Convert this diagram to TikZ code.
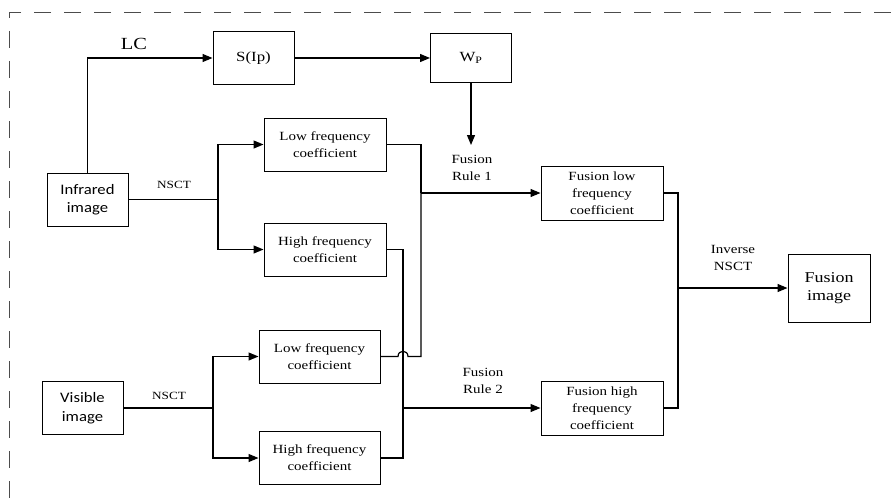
\documentclass[tikz,border=0pt]{standalone}
\usepackage{fontspec}
\setmainfont{Liberation Serif}[FakeStretch=1.2]
\newfontfamily\boxsans{Carlito}[FakeStretch=1.15]
\usetikzlibrary{arrows.meta}

\begin{document}
\begin{tikzpicture}[
            x=1pt, y=-1pt,
            box/.style={
                    draw,
                    rectangle,
                    line width=1pt,
                    align=center,
                    inner sep=0pt,
                    font=\fontsize{12.5}{17}\selectfont,
                    minimum width=122pt,
                    minimum height=53pt
                },
            imgbox/.style={
                    box,
                    font=\boxsans\fontsize{14.5}{18.5}\selectfont,
                    minimum width=81pt
                },
            link/.style={
                    line width=1.2pt
                },
            flow/.style={
                    link,
                    -{Triangle[length=10pt,width=8pt]}
                },
            lbl/.style={
                    align=center,
                    inner sep=0pt,
                    font=\fontsize{12.5}{16.5}\selectfont
                },
            frame/.style={
                    draw=black!70,
                    line width=1pt,
                    dash pattern=on 17pt off 13pt
                }
        ]
        \useasboundingbox (0,0) rectangle (891,503);

        % outer dashed frame
        \draw[frame] (891,13) -- (9,13) -- (9,503);

        \node[imgbox] (ir) at (87.5, 199.5) {Infrared\\image};
        \node[imgbox] (vis) at (82.5, 408) {Visible\\image};
        \node[box, minimum width=81pt, minimum height=52pt, font=\fontsize{14}{16}\selectfont] (sip) at (253.5, 58) {S(Ip)};
        \node[box, minimum width=81pt, minimum height=48pt, font=\fontsize{14}{16}\selectfont] (wp) at (471, 58) {W\textsubscript{P}};
        \node[box] (irlow) at (325, 144.5) {Low frequency\\coefficient};
        \node[box] (irhigh) at (325, 249.5) {High frequency\\coefficient};
        \node[box, minimum width=121pt] (vislow) at (319.5, 356.5) {Low frequency\\coefficient};
        \node[box, minimum width=121pt] (vishigh) at (319.5, 458) {High frequency\\coefficient};
        \node[box, minimum height=54pt] (fuslow) at (602, 193) {Fusion low\\frequency\\coefficient};
        \node[box, minimum height=54pt] (fushigh) at (602, 408) {Fusion high\\frequency\\coefficient};
        \node[box, minimum width=82pt, minimum height=68pt, font=\fontsize{15}{18}\selectfont] (fusimg) at (829, 288) {Fusion\\image};

        \coordinate (rule1) at (471, 145);
        \coordinate (irsplit) at (218, 199.5);
        \coordinate (vissplit) at (213, 408);
        \coordinate (lowbus) at (421, 193);
        \coordinate (highbus) at (403, 408);
        \coordinate (outbus) at (678, 288);

        \node[lbl, font=\fontsize{17}{18}\selectfont] (lc) at (134, 44) {LC};
        \node[lbl, font=\fontsize{11}{12}\selectfont] (nsct1) at (174, 185) {NSCT};
        \node[lbl, font=\fontsize{11}{12}\selectfont] (nsct2) at (169, 396) {NSCT};
        \node[lbl] (fr1) at (472, 168) {Fusion\\Rule 1};
        \node[lbl] (fr2) at (483, 381) {Fusion\\Rule 2};
        \node[lbl] (inv) at (733, 258) {Inverse\\NSCT};

        \draw[flow] (ir.north) |- (sip);
        \draw[flow] (sip) -- (wp);
        \draw[flow] (wp) -- (rule1);

        \draw[link] (ir) -- (irsplit);
        \draw[flow] (irsplit) |- (irlow);
        \draw[flow] (irsplit) |- (irhigh);

        \draw[link] (vis) -- (vissplit);
        \draw[flow] (vissplit) |- (vislow);
        \draw[flow] (vissplit) |- (vishigh);

        \draw[link] (irlow.east) -| (lowbus);
        \draw[link] (vislow.east) -- (398, 356.5) .. controls (398, 349.5) and (408, 349.5) .. (408, 356.5) -| (lowbus);
        \draw[flow] (lowbus) -- (fuslow);

        \draw[link] (irhigh.east) -| (highbus);
        \draw[link] (vishigh.east) -| (highbus);
        \draw[flow] (highbus) -- (fushigh);

        \draw[link] (fuslow.east) -| (outbus);
        \draw[link] (fushigh.east) -| (outbus);
        \draw[flow] (outbus) -- (fusimg);

    \end{tikzpicture}
\end{document}
